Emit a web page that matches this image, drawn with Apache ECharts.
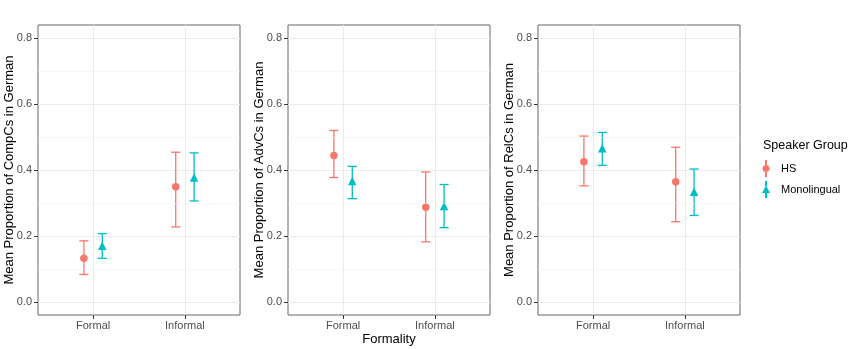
<!DOCTYPE html>
<html>
<head>
<meta charset="utf-8">
<script src="https://cdn.jsdelivr.net/npm/echarts@6/dist/echarts.min.js"></script>
<style>
html,body{margin:0;padding:0;background:#fff;}
#chart{width:850px;height:349px;}
</style>
</head>
<body>
<div id="chart"></div>
<script>
// ---- data ----
const categories = ['Formal', 'Informal'];
const groups = ['HS', 'Monolingual'];
const yTicks = [0, 0.2, 0.4, 0.6, 0.8];
const yMinorTicks = [0.1, 0.3, 0.5, 0.7];
const yTitles = [
  'Mean Proportion of CompCs in German',
  'Mean Proportion of AdvCs in German',
  'Mean Proportion of RelCs in German'
];
const xTitle = 'Formality';
const legendTitle = 'Speaker Group';

const compHSMean = [0.132, 0.349];
const compHSLower = [0.083, 0.227];
const compHSUpper = [0.185, 0.454];
const compMonoMean = [0.170, 0.377];
const compMonoLower = [0.132, 0.306];
const compMonoUpper = [0.207, 0.452];

const advHSMean = [0.444, 0.287];
const advHSLower = [0.377, 0.182];
const advHSUpper = [0.520, 0.394];
const advMonoMean = [0.367, 0.291];
const advMonoLower = [0.313, 0.225];
const advMonoUpper = [0.411, 0.356];

const relHSMean = [0.425, 0.364];
const relHSLower = [0.352, 0.243];
const relHSUpper = [0.503, 0.469];
const relMonoMean = [0.466, 0.334];
const relMonoLower = [0.414, 0.262];
const relMonoUpper = [0.514, 0.403];

// ---- build ----
const panels = [
  {hs: [compHSMean, compHSLower, compHSUpper], mono: [compMonoMean, compMonoLower, compMonoUpper]},
  {hs: [advHSMean, advHSLower, advHSUpper], mono: [advMonoMean, advMonoLower, advMonoUpper]},
  {hs: [relHSMean, relHSLower, relHSUpper], mono: [relMonoMean, relMonoLower, relMonoUpper]}
];
const colors = {HS: '#F8766D', Monolingual: '#00BFC4'};
const dodge = {HS: -0.1, Monolingual: 0.1};
const symbols = {HS: 'circle', Monolingual: 'triangle'};
const symbolSizes = {HS: 7.5, Monolingual: 8.5};
const FONT = 'Liberation Sans, Arial, sans-serif';
const gridLefts = [38, 288, 538];
const xPos = categories.map((c, j) => j + 1);

const grid = [], xAxis = [], yAxis = [], series = [];
gridLefts.forEach((left, i) => {
  grid.push({left: left, top: 25, width: 202, height: 290, show: true,
    outerBoundsMode: 'none', containLabel: false,
    borderColor: '#666', borderWidth: 1, backgroundColor: '#fff'});
  xAxis.push({
    type: 'value', gridIndex: i, min: 0.4, max: 2.6,
    name: i === 1 ? xTitle : '', nameLocation: 'middle', nameGap: 18,
    nameMoveOverlap: false,
    nameTextStyle: {fontSize: 13, color: '#000', fontFamily: FONT},
    axisLine: {show: false, onZero: false},
    axisTick: {show: true, length: 4, customValues: xPos, lineStyle: {color: '#333'}},
    axisLabel: {customValues: xPos, formatter: v => categories[Math.round(v) - 1],
      color: '#4D4D4D', fontSize: 11, margin: 5, fontFamily: FONT},
    splitLine: {show: true, lineStyle: {color: '#EBEBEB', width: 1}}
  });
  yAxis.push({
    type: 'value', gridIndex: i, min: -0.04, max: 0.84,
    name: yTitles[i], nameLocation: 'middle', nameGap: 22, nameRotate: 90,
    nameMoveOverlap: false,
    nameTextStyle: {fontSize: 13, color: '#000', fontFamily: FONT},
    axisLine: {show: false, onZero: false},
    axisTick: {show: true, length: 4, customValues: yTicks, lineStyle: {color: '#333'}},
    axisLabel: {customValues: yTicks, formatter: v => v.toFixed(1),
      color: '#4D4D4D', fontSize: 11, margin: 6, fontFamily: FONT},
    splitLine: {show: true, lineStyle: {color: '#EBEBEB', width: 1}}
  });
  // minor gridlines
  series.push({
    type: 'line', xAxisIndex: i, yAxisIndex: i, data: [], silent: true, z: 0,
    markLine: {silent: true, symbol: 'none', label: {show: false}, animation: false,
      lineStyle: {color: '#F2F2F2', width: 0.6, type: 'solid'},
      data: yMinorTicks.map(v => ({yAxis: v}))}
  });
  const p = panels[i];
  [['HS', p.hs], ['Monolingual', p.mono]].forEach(([g, arr]) => {
    const [mean, lower, upper] = arr;
    series.push({
      type: 'custom', name: g, xAxisIndex: i, yAxisIndex: i, z: 2, silent: true,
      encode: {x: 0, y: [1, 2]},
      data: lower.map((lo, j) => [xPos[j] + dodge[g], lo, upper[j]]),
      renderItem: (params, api) => {
        const x = api.value(0);
        const pLo = api.coord([x, api.value(1)]);
        const pHi = api.coord([x, api.value(2)]);
        const hw = api.size([0.1, 0])[0] / 2;
        const st = {stroke: colors[g], lineWidth: 1.3};
        return {type: 'group', children: [
          {type: 'line', shape: {x1: pLo[0], y1: pLo[1], x2: pHi[0], y2: pHi[1]}, style: st},
          {type: 'line', shape: {x1: pLo[0] - hw, y1: pLo[1], x2: pLo[0] + hw, y2: pLo[1]}, style: st},
          {type: 'line', shape: {x1: pHi[0] - hw, y1: pHi[1], x2: pHi[0] + hw, y2: pHi[1]}, style: st}
        ]};
      }
    });
    series.push({
      type: 'scatter', name: g, xAxisIndex: i, yAxisIndex: i, z: 3,
      symbol: symbols[g], symbolSize: symbolSizes[g],
      itemStyle: {color: colors[g], opacity: 1},
      data: mean.map((m, j) => [xPos[j] + dodge[g], m])
    });
  });
});

const iconHS = 'path://M3,0h2v5.2h-2z M0.5,8.5a3.5,3.5 0 1,0 7,0a3.5,3.5 0 1,0 -7,0z M3,11.8h2v5.2h-2z';
const iconMono = 'path://M3,0h2v5h-2z M4,4.5L8,12L0,12z M3,12h2v5h-2z';

const option = {
  animation: false,
  backgroundColor: '#fff',
  textStyle: {fontFamily: FONT},
  title: {text: legendTitle, left: 763, top: 139, padding: 0,
    textStyle: {fontSize: 12.5, fontWeight: 'normal', color: '#000', fontFamily: FONT}},
  legend: {
    orient: 'vertical', left: 762, top: 160, padding: 0,
    itemWidth: 20, itemHeight: 17, itemGap: 4,
    textStyle: {fontSize: 11, color: '#000', fontFamily: FONT},
    data: [
      {name: groups[0], icon: iconHS, itemStyle: {color: colors.HS}},
      {name: groups[1], icon: iconMono, itemStyle: {color: colors.Monolingual}}
    ]
  },
  grid: grid, xAxis: xAxis, yAxis: yAxis, series: series
};
const chart = echarts.init(document.getElementById('chart'), null, {renderer: 'canvas'});
chart.setOption(option);
</script>
</body>
</html>
